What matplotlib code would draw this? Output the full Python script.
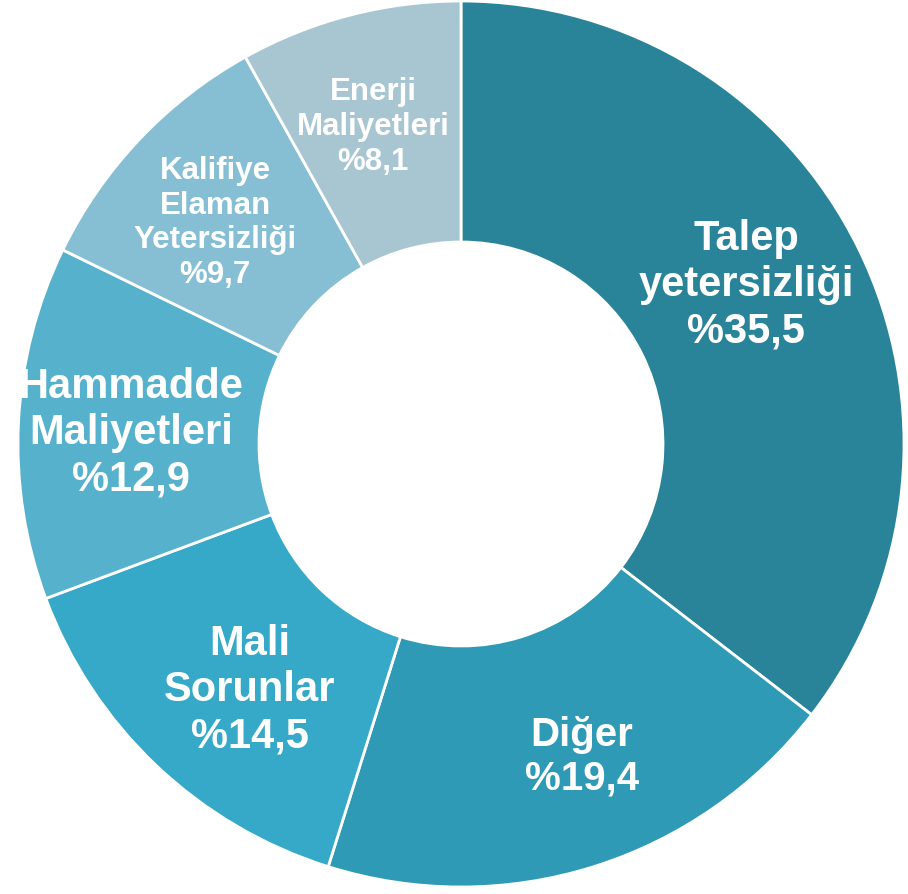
import matplotlib
matplotlib.use("Agg")
import matplotlib.pyplot as plt

categories = ["Talep\nyetersizliği", "Diğer", "Mali\nSorunlar", "Hammadde\nMaliyetleri",
              "Kalifiye\nElaman\nYetersizliği", "Enerji\nMaliyetleri"]
values = [35.5, 19.4, 14.5, 12.9, 9.7, 8.1]
value_labels = ["%35,5", "%19,4", "%14,5", "%12,9", "%9,7", "%8,1"]
colors = ["#2a8499", "#2f9ab5", "#36a9c8", "#56b2cc", "#86bfd4", "#a7c6d2"]
# label positions in pixel coordinates (x, y from top)
label_pos = [(746, 285), (582, 757), (250, 690), (131, 433), (215, 223), (373, 127)]
label_sizes = [30, 29, 30, 30, 22.5, 22.5]

W, H = 908, 894
fig = plt.figure(figsize=(W / 100, H / 100), dpi=100)
ax = fig.add_axes([0, 0, 1, 1])
ax.set_xlim(0, W)
ax.set_ylim(0, H)
ax.set_aspect("equal")
ax.axis("off")

cx, cy, R = 461, H - 444, 443
wedges, _ = ax.pie(values, colors=colors, startangle=90, counterclock=False,
                   center=(cx, cy), radius=R,
                   wedgeprops=dict(width=R - 202, edgecolor="white", linewidth=2))
ax.set_xlim(0, W)
ax.set_ylim(0, H)

for cat, vl, (px, py), fs in zip(categories, value_labels, label_pos, label_sizes):
    ax.text(px, H - py, cat + "\n" + vl, ha="center", va="center", color="white",
            fontsize=fs, fontweight="bold", family=["Liberation Sans", "DejaVu Sans"],
            linespacing=1.2)

fig.savefig("out.png", dpi=100)
